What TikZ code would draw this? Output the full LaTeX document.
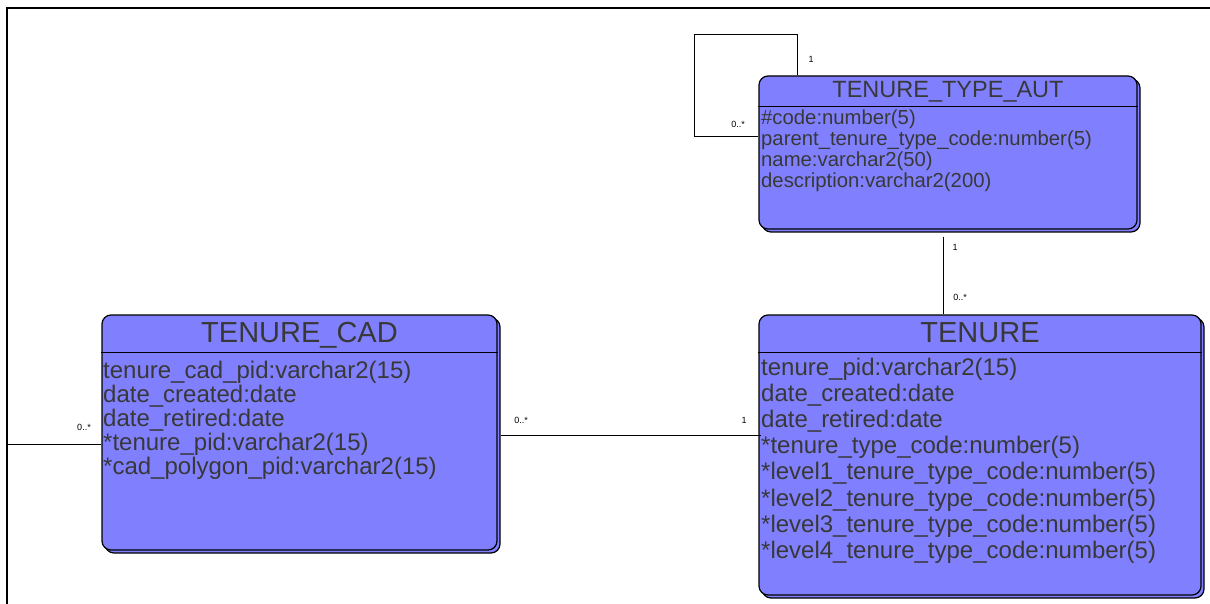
\documentclass[tikz,border=0pt]{standalone}
\usepackage{fontspec}
\setmainfont{Liberation Sans}
\usetikzlibrary{positioning,shadows,calc}
\definecolor{entityfill}{HTML}{8080FF}
\definecolor{entityink}{HTML}{383838}
\tikzset{
  entity/.style={draw=black,fill=entityfill,line width=1.2pt,rounded corners=9pt,inner sep=0pt,
    general shadow={draw=black,fill=entityfill,line width=1.2pt,shadow xshift=3pt,shadow yshift=-3pt}},
  divider/.style={draw=black,line width=1pt},
  title/.style={text=entityink,inner sep=0pt,anchor=base},
  attr/.style={text=entityink,inner sep=0pt,anchor=base west},
  link/.style={draw=black,line width=1pt},
  mult/.style={font=\fontsize{9}{9}\selectfont,inner sep=0pt,text=black},
}

\begin{document}
\begin{tikzpicture}[x=1pt,y=-1pt]
  \useasboundingbox (0,0) rectangle (1210,604);
  \draw[line width=2pt] (7,604) -- (7,8) -- (1210,8);

  % entities
  \node[entity,minimum width=378pt,minimum height=153pt] (tta) at (948,152.5) {};
  \node[entity,minimum width=442pt,minimum height=280pt] (tenure) at (980,455) {};
  \node[entity,minimum width=395pt,minimum height=235pt] (cad) at (299.5,432.5) {};
  \draw[divider] ([yshift=-31pt]tta.north west) -- ([yshift=-31pt]tta.north east);
  \draw[divider] ([yshift=-38pt]tenure.north west) -- ([yshift=-38pt]tenure.north east);
  \draw[divider] ([yshift=-38pt]cad.north west) -- ([yshift=-38pt]cad.north east);

  \node[title,font=\fontsize{23.5}{24}\selectfont] (tta-title) at (948,97.5) {TENURE\_TYPE\_AUT};
  \node[title,font=\fontsize{29}{30}\selectfont] (tenure-title) at (980,342.5) {TENURE};
  \node[title,font=\fontsize{29}{30}\selectfont] (cad-title) at (299.5,342.5) {TENURE\_CAD};

  \foreach \attrtext [count=\k from 0] in {\#code:number(5),parent\_tenure\_type\_code:number(5),
      name:varchar2(50),description:varchar2(200)}
    \node[attr,font=\fontsize{20.3}{21}\selectfont] (tta-\k) at (761,125+21*\k) {\attrtext};
  \foreach \attrtext [count=\k from 0] in {tenure\_pid:varchar2(15),date\_created:date,date\_retired:date,
      *tenure\_type\_code:number(5),*level1\_tenure\_type\_code:number(5),*level2\_tenure\_type\_code:number(5),
      *level3\_tenure\_type\_code:number(5),*level4\_tenure\_type\_code:number(5)}
    \node[attr,font=\fontsize{24}{26}\selectfont] (tenure-\k) at (761,375+26.2*\k) {\attrtext};
  \foreach \attrtext [count=\k from 0] in {tenure\_cad\_pid:varchar2(15),date\_created:date,date\_retired:date,
      *tenure\_pid:varchar2(15),*cad\_polygon\_pid:varchar2(15)}
    \node[attr,font=\fontsize{24}{24}\selectfont] (cad-\k) at (103,378+24*\k) {\attrtext};

  % relationships
  \coordinate (loop) at (694,35);
  \draw[link] ([xshift=39pt]tta.north west) |- (loop) |- ([yshift=-61pt]tta.north west);
  \draw[link] ([xshift=-5pt,yshift=-7pt]tta.south) -- ([xshift=-37pt]tenure.north);
  \draw[link] ([xshift=3pt,yshift=-2.5pt]cad.east) -- ([xshift=3pt,yshift=-2.5pt]cad.east -| tenure.west);
  \coordinate (frameedge) at (7,444);
  \draw[link] (frameedge) -- (frameedge -| cad.west);

  \node[mult] (loop-one) at (811,59) {1};
  \node[mult] (loop-many) at (738,124) {0..*};
  \node[mult] (type-one) at (955,247) {1};
  \node[mult] (type-many) at (960,297) {0..*};
  \node[mult] (cad-many) at (521,420) {0..*};
  \node[mult] (tenure-one) at (744,420) {1};
  \node[mult] (edge-many) at (84,427) {0..*};
\end{tikzpicture}
\end{document}
